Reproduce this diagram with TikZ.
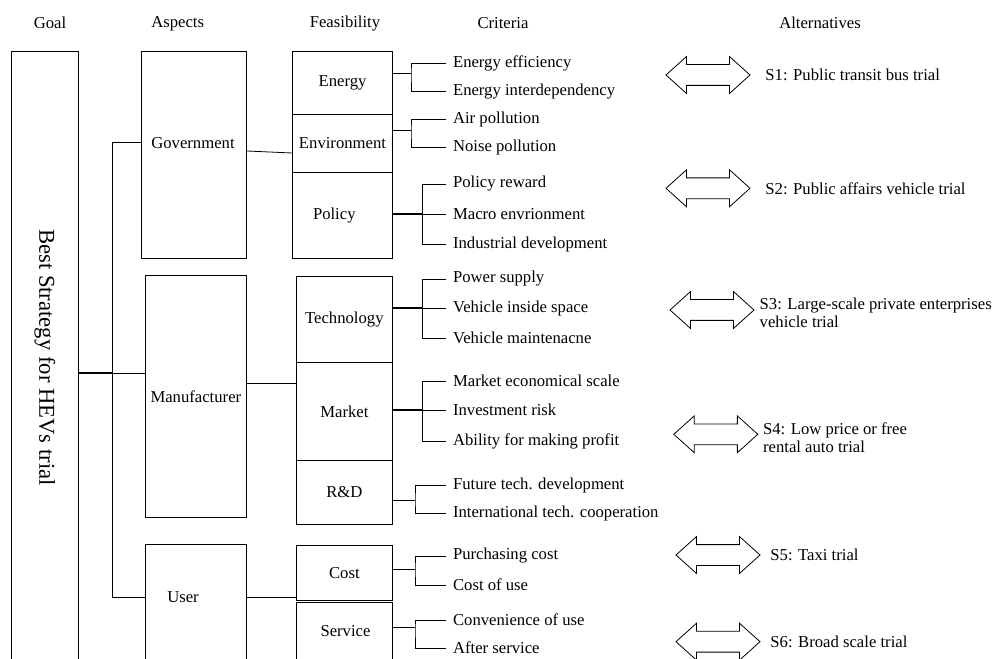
\documentclass[tikz,border=0pt]{standalone}
\usepackage{fontspec}
\setmainfont{Liberation Serif}
\usetikzlibrary{positioning,fit,shapes.arrows}

\begin{document}
\begin{tikzpicture}[
        x=0.75pt, y=-0.75pt, line width=0.6pt,
        font=\fontsize{12.5}{14}\selectfont,
        box/.style={draw, inner sep=0pt},
        crit/.style={anchor=west, inner xsep=5pt, inner ysep=1pt},
        alt/.style={anchor=west, align=left, inner sep=0pt, font=\fontsize{12.5}{13.5}\selectfont},
        twoway/.style={double arrow, draw, minimum height=63pt, minimum width=27pt, inner xsep=0pt, inner ysep=7.5pt,
            double arrow head extend=6pt, double arrow tip angle=84},
        heavy/.style={line width=1.2pt}
    ]
    \useasboundingbox (0,0) rectangle (1000,659);

    % column titles
    \node (h-goal) at (50,23.3) {Goal};
    \node (h-asp) at (177.7,23.3) {Aspects};
    \node (h-fea) at (345,23.3) {Feasibility};
    \node (h-cri) at (503,23.3) {Criteria};
    \node (h-alt) at (820,23.3) {Alternatives};

    % goal
    \node[box, fit={(11.7,51) (78.3,664)}] (goal) {};
    \node[rotate=-90, font=\fontsize{17}{20}\selectfont] (goal-t) at (goal) {Best Strategy for HEVs trial};

    % aspects
    \node[box, fit={(141.7,51) (246.7,258.3)}] (gov) {};
    \node (gov-t) at (193,142.7) {Government};
    \node[box, fit={(145,275.7) (246.7,517.7)}, label=center:Manufacturer] (man) {};
    \node[box, fit={(145,544.3) (246.7,664)}] (user) {};
    \node (user-t) at (183,597) {User};

    % feasibility
    \node[box, fit={(292.3,51.7) (392.7,114.7)}, label=center:Energy] (en) {};
    \node[box, fit={(292.3,114.7) (392.7,172.3)}, label=center:Environment] (env) {};
    \node[box, fit={(292.3,172.3) (392.7,258.3)}] (po) {};
    \node (po-t) at (334.3,216) {Policy};
    \node[box, fit={(296,276) (392.7,362.7)}, label=center:Technology] (tech) {};
    \node[box, fit={(296,362.7) (392.7,460.7)}, label=center:Market] (mkt) {};
    \node[box, fit={(296,460.7) (392.7,524)}, label=center:R\&D] (rd) {};
    \node[box, fit={(296,545) (392.7,600.7)}, label=center:Cost] (cost) {};
    \node[box, fit={(296,602.3) (392.7,664)}] (serv) {};
    \node (serv-t) at (345.5,630.7) {Service};

    % goal - aspects
    \coordinate (trunk) at (112,373.3);
    \coordinate (j-gov) at (112,142.7);
    \coordinate (j-user) at (112,597);
    \draw[heavy] (goal.east |- trunk) -- (trunk);
    \draw (gov.west |- j-gov) -- (j-gov) -- (j-user) -- (user.west |- j-user);
    \draw (trunk) -- (man.west |- trunk);

    % aspects - feasibility
    \coordinate (gov-o) at (0,151);
    \coordinate (env-i) at (0,153);
    \coordinate (man-o) at (0,383.3);
    \draw (gov.east |- gov-o) -- (env.west |- env-i);
    \draw (man.east |- man-o) -- (mkt.west |- man-o);
    \draw (user.east |- j-user) -- (cost.west |- j-user);

    % criteria
    \node[crit] (ee) at (446,63.3) {Energy efficiency};
    \node[crit] (ei) at (446,91.3) {Energy interdependency};
    \node[crit] (ap) at (446,119) {Air pollution};
    \node[crit] (np) at (446,147) {Noise pollution};
    \node[crit] (pr) at (446,184) {Policy reward};
    \node[crit] (pm) at (446,214) {Macro envrionment};
    \node[crit] (pi) at (446,244) {Industrial development};
    \node[crit] (ps) at (446,279) {Power supply};
    \node[crit] (vs) at (446,308) {Vehicle inside space};
    \node[crit] (vm) at (446,338) {Vehicle maintenacne};
    \node[crit] (me) at (446,381) {Market economical scale};
    \node[crit] (ir) at (446,410) {Investment risk};
    \node[crit] (ab) at (446,441) {Ability for making profit};
    \node[crit] (ft) at (446,485) {Future tech. development};
    \node[crit] (it) at (446,513) {International tech. cooperation};
    \node[crit] (pc) at (446,556) {Purchasing cost};
    \node[crit] (cu) at (446,585) {Cost of use};
    \node[crit] (cv) at (446,620) {Convenience of use};
    \node[crit] (as) at (446,648) {After service};

    % feasibility - criteria
    \coordinate (en-j) at (411,73.3);
    \draw (en.east |- en-j) -- (en-j);
    \draw (ee.west) -| (en-j) |- (ei.west);
    \coordinate (env-j) at (411,130.7);
    \draw (env.east |- env-j) -- (env-j);
    \draw (ap.west) -| (env-j) |- (np.west);
    \coordinate (po-j) at (422.7,214);
    \draw[heavy] (po.east |- po-j) -- (po-j);
    \draw (po-j) -- (pm.west);
    \draw (pr.west) -| (po-j) |- (pi.west);
    \coordinate (tech-j) at (422.7,308);
    \draw[heavy] (tech.east |- tech-j) -- (tech-j);
    \draw (tech-j) -- (vs.west);
    \draw (ps.west) -| (tech-j) |- (vm.west);
    \coordinate (mkt-j) at (422.7,410);
    \draw[heavy] (mkt.east |- mkt-j) -- (mkt-j);
    \draw (mkt-j) -- (ir.west);
    \draw (me.west) -| (mkt-j) |- (ab.west);
    \coordinate (rd-j) at (415,500);
    \draw (rd.east |- rd-j) -- (rd-j);
    \draw (ft.west) -| (rd-j) |- (it.west);
    \coordinate (cost-j) at (415,569);
    \draw (cost.east |- cost-j) -- (cost-j);
    \draw (pc.west) -| (cost-j) |- (cu.west);
    \coordinate (serv-j) at (415,627.3);
    \draw (serv.east |- serv-j) -- (serv-j);
    \draw (cv.west) -| (serv-j) |- (as.west);

    % alternatives
    \node[twoway] (a1) at (708,75) {};
    \node[twoway] (a2) at (708,188.3) {};
    \node[twoway] (a3) at (712,310) {};
    \node[twoway] (a4) at (715.8,434.3) {};
    \node[twoway] (a5) at (718,555) {};
    \node[twoway] (a6) at (718,641.7) {};
    \node[alt] (s1) at (765,75) {S1: Public transit bus trial};
    \node[alt] (s2) at (765,188.3) {S2: Public affairs vehicle trial};
    \node[alt] (s3) at (759.3,312.5) {S3: Large-scale private enterprises\\vehicle trial};
    \node[alt] (s4) at (762.7,438) {S4: Low price or free\\rental auto trial};
    \node[alt] (s5) at (770,555) {S5: Taxi trial};
    \node[alt] (s6) at (770,641.7) {S6: Broad scale trial};
\end{tikzpicture}
\end{document}
